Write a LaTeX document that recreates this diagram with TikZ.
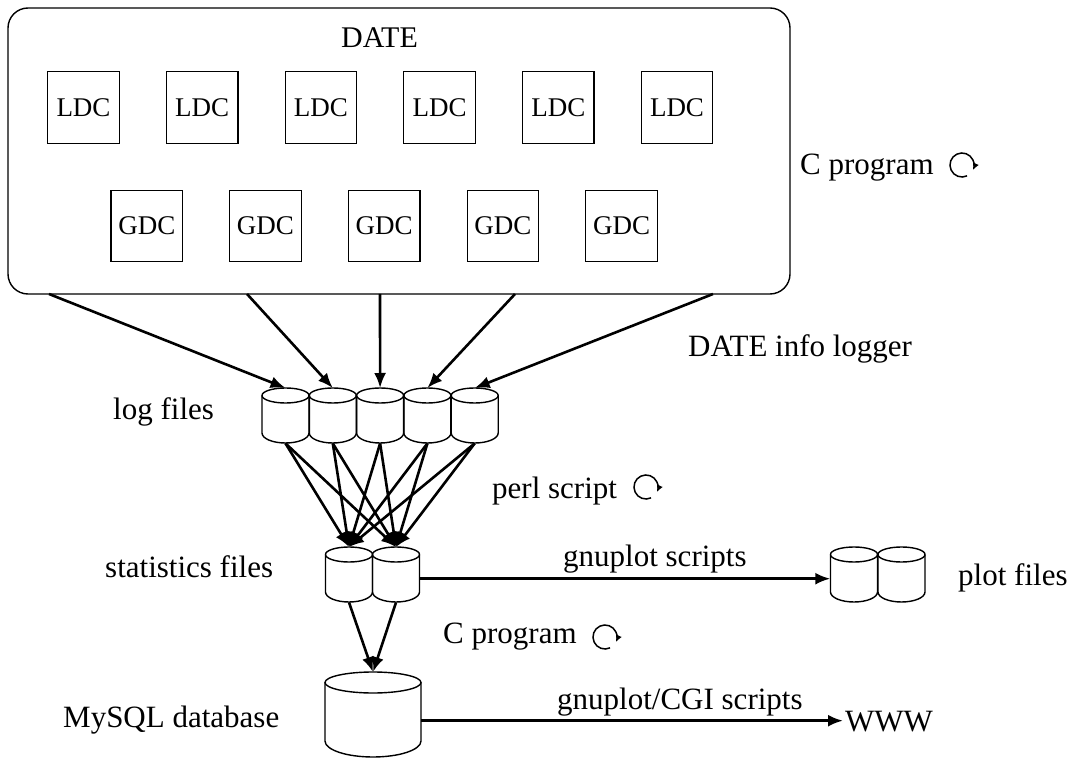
\documentclass[tikz,border=0pt]{standalone}
\usepackage{fontspec}
\setmainfont{Liberation Serif}
\usetikzlibrary{arrows.meta,calc}
\tikzset{
  cylline/.style={line width=1.4pt},
  dcbox/.style={draw, line width=1.2pt, minimum width=71.5pt, minimum height=71.5pt, inner sep=0pt, font=\fontsize{27}{32}\selectfont},
  datebox/.style={draw, line width=1.4pt, rounded corners=20pt, minimum width=782pt, minimum height=286pt, inner sep=0pt},
  lbl/.style={inner sep=0pt, font=\fontsize{31}{37}\selectfont},
  flow/.style={line width=2.6pt, -{Latex[length=15pt,width=12pt]}},
  cyc/.style={line width=1.5pt, -{Latex[length=7pt,width=6.5pt]}}
}
\newcommand\mycyl[7]{%
  \node[inner sep=0pt, minimum width=#4pt, minimum height=#5pt, anchor=north] (#1) at (#2,#3) {};
  \draw[cylline] (#2-#4/2,#3+#6) -- (#2-#4/2,#3+#5-#7) arc[start angle=180,end angle=360,x radius=#4/2*1pt,y radius=#7*1pt] -- (#2+#4/2,#3+#6);
  \draw[cylline] (#2,#3+#6) ellipse[x radius=#4/2*1pt,y radius=#6*1pt];
}
\newcommand\cycsym[2]{%
  \draw[cyc] (#1,#2) ++(-65:12pt) arc[start angle=-65,end angle=-385,radius=12pt];
}
\begin{document}
\begin{tikzpicture}[x=1pt,y=-1pt]
\useasboundingbox (0,0) rectangle (1072,759);
% DATE box
\node[datebox] (date) at (399,151) {};
\node[inner sep=0pt, anchor=base west, font=\fontsize{30}{36}\selectfont] (datelbl) at (341,48) {DATE};
\foreach \i in {0,...,5} {
  \node[dcbox] (ldc\i) at ({83.5+118.7*\i},107.5) {LDC};
}
\foreach \i in {0,...,4} {
  \node[dcbox] (gdc\i) at ({146.8+118.7*\i},226) {GDC};
}
% cylinders
\mycyl{lg1}{285.5}{388}{47}{55}{7.5}{10}
\mycyl{lg2}{332.8}{388}{47}{55}{7.5}{10}
\mycyl{lg3}{380.1}{388}{47}{55}{7.5}{10}
\mycyl{lg4}{427.4}{388}{47}{55}{7.5}{10}
\mycyl{lg5}{474.7}{388}{47}{55}{7.5}{10}
\mycyl{st1}{349}{547}{47}{55}{7.5}{10}
\mycyl{st2}{396}{547}{47}{55}{7.5}{10}
\mycyl{pl1}{854}{547}{47}{55}{7.5}{10}
\mycyl{pl2}{901.5}{547}{47}{55}{7.5}{10}
\mycyl{db}{373}{672}{96}{85}{10.5}{16}
% start points on DATE box
\coordinate (d1) at (49,294);
\coordinate (d2) at (247,294);
\coordinate (d3) at (380,294);
\coordinate (d4) at (515,294);
\coordinate (d5) at (713,294);
\foreach \i in {1,...,5} {
  \draw[flow] (d\i) -- (lg\i.north);
}
\foreach \i in {1,...,5} {
  \draw[flow] (lg\i.south) -- (st1.north);
  \draw[flow] (lg\i.south) -- (st2.north);
}
\draw[flow] (st1.south) -- (db.north);
\draw[flow] (st2.south) -- (db.north);
\coordinate (stout) at ([yshift=-4pt]st2.east);
\coordinate (plin) at ([yshift=-4pt]pl1.west);
\draw[flow] (stout) -- (plin);
\node[lbl, anchor=base west] (www) at (845,731) {WWW};
\coordinate (dbout) at ([yshift=-6pt]db.east);
\coordinate (wwwin) at ([xshift=-2pt]www.west |- dbout);
\draw[flow] (dbout) -- (wwwin);
% labels
\node[lbl, anchor=base west] (cprog1) at (800,175) {C program};
\node[lbl, anchor=base west] (infolog) at (688,357) {DATE info logger};
\node[lbl, anchor=base west] (logf) at (113,420) {log files};
\node[lbl, anchor=base west] (perl) at (492,498) {perl script};
\node[lbl, anchor=base west] (statf) at (105,577) {statistics files};
\node[lbl, anchor=base west] (gnu) at (563,566) {gnuplot scripts};
\node[lbl, anchor=base west] (plotf) at (958,585) {plot files};
\node[lbl, anchor=base west] (cprog2) at (443,643) {C program};
\node[lbl, anchor=base west] (gnucgi) at (557,709) {gnuplot/CGI scripts};
\node[lbl, anchor=base west] (mysql) at (63,727) {MySQL database};
% cycle symbols
\cycsym{962}{165}
\cycsym{646}{487}
\cycsym{605}{637}
\end{tikzpicture}
\end{document}
